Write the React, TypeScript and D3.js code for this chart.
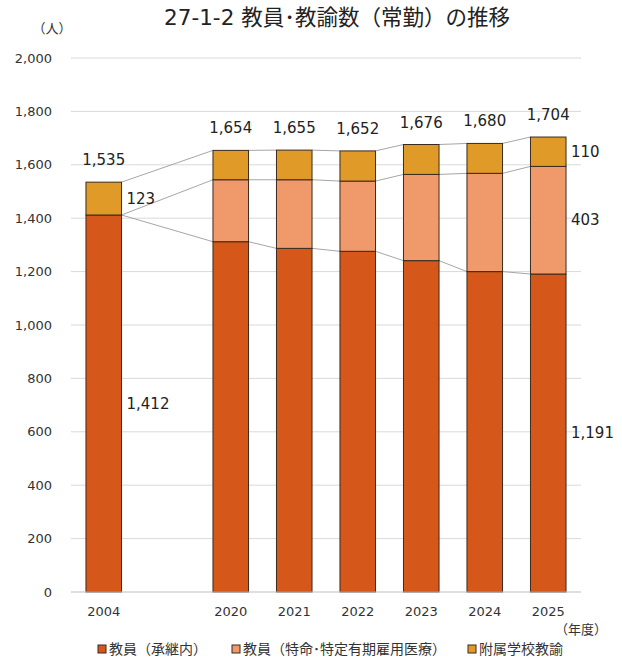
import React from "react";
import * as d3 from "d3";

const slots = ["2004", "gap", "2020", "2021", "2022", "2023", "2024", "2025"];
const years = ["2004", "2020", "2021", "2022", "2023", "2024", "2025"];
const tenured = [1412, 1312, 1287, 1276, 1241, 1200, 1191];
const fixedTerm = [0, 232, 257, 263, 323, 368, 403];
const attached = [123, 110, 111, 113, 112, 112, 110];
const totals = [1535, 1654, 1655, 1652, 1676, 1680, 1704];
const yTicks = [0, 200, 400, 600, 800, 1000, 1200, 1400, 1600, 1800, 2000];
const seriesNames = ["教員（承継内）", "教員（特命･特定有期雇用医療）", "附属学校教諭"];
const seriesColors = ["#D5581A", "#F0996B", "#E09A28"];
const seriesKeys = ["tenured", "fixedTerm", "attached"];

const W = 622;
const H = 661;
const FONT = "'DejaVu Sans', 'Noto Sans CJK JP', sans-serif";
const CJK = "'Noto Sans CJK JP', 'DejaVu Sans', sans-serif";

export default function App() {
  const x = d3.scaleBand<string>().domain(slots).range([72, 580]).paddingInner(0.44).paddingOuter(0.22);
  const y = d3.scaleLinear().domain([0, 2000]).range([592, 58]);
  const fmt = d3.format(",");

  const rows = years.map((yr, i) => ({
    year: yr,
    tenured: tenured[i],
    fixedTerm: fixedTerm[i],
    attached: attached[i],
  }));
  const stack = d3.stack<any>().keys(seriesKeys);
  const stacked = stack(rows);
  const bw = x.bandwidth();

  const connectors: { x1: number; y1: number; x2: number; y2: number }[] = [];
  for (let i = 0; i < years.length - 1; i++) {
    const xr = (x(years[i]) as number) + bw;
    const xl = x(years[i + 1]) as number;
    stacked.forEach((s) => {
      connectors.push({ x1: xr, y1: y(s[i][1]), x2: xl, y2: y(s[i + 1][1]) });
    });
  }

  const segLabels: { yi: number; si: number; val: number }[] = [
    { yi: 0, si: 0, val: tenured[0] },
    { yi: 0, si: 2, val: attached[0] },
    { yi: 6, si: 0, val: tenured[6] },
    { yi: 6, si: 1, val: fixedTerm[6] },
    { yi: 6, si: 2, val: attached[6] },
  ];

  const legendX = [98, 232, 468];

  return (
    <svg width={W} height={H} style={{ position: "absolute", left: 0, top: 0, background: "#fff" }}>
      <text x={337} y={25} textAnchor="middle" fontFamily={FONT} fontSize={21.5} fill="#222">
        27-1-2 教員･教諭数（常勤）の推移
      </text>
      <text x={52} y={33} textAnchor="middle" fontFamily={CJK} fontSize={13} fill="#333">
        （人）
      </text>
      {yTicks.map((t) => (
        <g key={t}>
          {t > 0 && <line x1={71} x2={581} y1={y(t)} y2={y(t)} stroke="#d9d9d9" strokeWidth={1} />}
          <text x={52} y={y(t)} dy="0.35em" textAnchor="end" fontFamily={FONT} fontSize={13} fill="#333">
            {fmt(t)}
          </text>
        </g>
      ))}
      {connectors.map((c, i) => (
        <line key={i} x1={c.x1} y1={c.y1} x2={c.x2} y2={c.y2} stroke="#a6a6a6" strokeWidth={1} />
      ))}
      {stacked.map((s, si) => (
        <g key={si}>
          {s.map((d, i) =>
            d[1] - d[0] > 0 ? (
              <rect
                key={i}
                x={x(years[i]) as number}
                y={y(d[1])}
                width={bw}
                height={y(d[0]) - y(d[1])}
                fill={seriesColors[si]}
                stroke="#3a2a1e"
                strokeWidth={1}
              />
            ) : null
          )}
        </g>
      ))}
      <line x1={71} x2={581} y1={y(0)} y2={y(0)} stroke="#bfbfbf" strokeWidth={1} />
      {years.map((yr, i) => (
        <text
          key={yr}
          x={(x(yr) as number) + bw / 2}
          y={y(totals[i]) - 17}
          textAnchor="middle"
          fontFamily={FONT}
          fontSize={15}
          fill="#222"
        >
          {fmt(totals[i])}
        </text>
      ))}
      {segLabels.map((l, k) => {
        const d = stacked[l.si][l.yi];
        return (
          <text
            key={k}
            x={(x(years[l.yi]) as number) + bw + 5}
            y={(y(d[0]) + y(d[1])) / 2}
            dy="0.35em"
            fontFamily={FONT}
            fontSize={15}
            fill="#222"
          >
            {fmt(l.val)}
          </text>
        );
      })}
      {years.map((yr) => (
        <text
          key={"x" + yr}
          x={(x(yr) as number) + bw / 2}
          y={611}
          dy="0.35em"
          textAnchor="middle"
          fontFamily={FONT}
          fontSize={13}
          fill="#333"
        >
          {yr}
        </text>
      ))}
      <text x={607} y={629} dy="0.35em" textAnchor="end" fontFamily={CJK} fontSize={13} fill="#333">
        （年度）
      </text>
      {seriesNames.map((n, i) => (
        <g key={n}>
          <rect x={legendX[i]} y={645} width={8} height={8} fill={seriesColors[i]} stroke="#3a2a1e" strokeWidth={1} />
          <text x={legendX[i] + 11} y={649} dy="0.35em" fontFamily={CJK} fontSize={14} fill="#333">
            {n}
          </text>
        </g>
      ))}
    </svg>
  );
}
